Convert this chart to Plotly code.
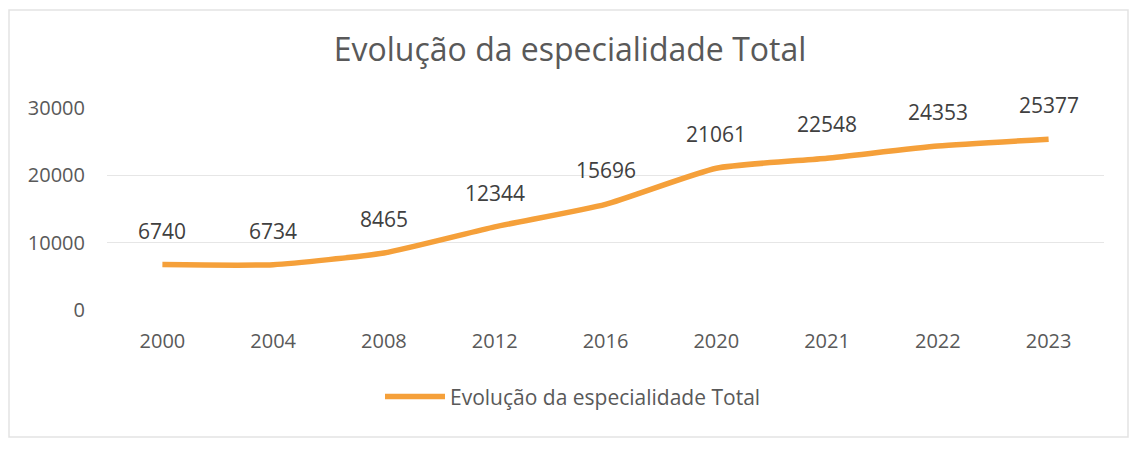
import plotly.graph_objects as go

years = ["2000", "2004", "2008", "2012", "2016", "2020", "2021", "2022", "2023"]
values = [6740, 6734, 8465, 12344, 15696, 21061, 22548, 24353, 25377]
y_ticks = [0, 10000, 20000, 30000]
series_name = "Evolução da especialidade Total"
title_text = "Evolução da especialidade Total"

FONT = "Open Sans"
ORANGE = "#F5A03A"

W, H = 1122, 460
L, T = 99, 100
PW, PH = 997, 202

xpos = list(range(len(years)))

fig = go.Figure()
fig.add_trace(go.Scatter(
    x=xpos, y=values, mode="lines", name=series_name,
    line=dict(color=ORANGE, width=5.5, shape="spline", smoothing=0.5),
    text=years, hovertemplate="%{text}: %{y}<extra></extra>",
))

for x, v in zip(xpos, values):
    fig.add_annotation(x=x, y=v, text=str(v), showarrow=False, yshift=34,
                       font=dict(family=FONT, size=21, color="#404040"))

fig.update_layout(
    width=W, height=H,
    paper_bgcolor="white", plot_bgcolor="white",
    margin=dict(l=L, r=W - L - PW, t=T, b=H - T - PH),
    title=dict(text=title_text, x=562 / W, xanchor="center", xref="container",
               y=(H - 42) / H, yanchor="middle",
               font=dict(family=FONT, size=32, color="#595959")),
    showlegend=True,
    legend=dict(orientation="h", x=(565 - L) / PW, xanchor="center", y=-0.43, yanchor="middle",
                font=dict(family=FONT, size=21, color="#595959"), itemwidth=60),
    xaxis=dict(range=[-0.5, len(years) - 0.5], tickvals=xpos, ticktext=years,
               showgrid=False, zeroline=False, showline=False,
               ticks="", ticklabelstandoff=17,
               tickfont=dict(family=FONT, size=20, color="#595959")),
    yaxis=dict(range=[0, 30000], tickvals=y_ticks, tickformat="d",
               showgrid=True, gridcolor="#E6E6E6",
               gridwidth=1, zeroline=False, showline=False, ticks="", ticklabelstandoff=21,
               tickfont=dict(family=FONT, size=20, color="#595959")),
    shapes=[dict(type="rect", xref="paper", yref="paper",
                 x0=(1 - L) / PW, x1=(1120 - L) / PW, y0=-(429 - T - PH) / PH, y1=(T + PH - 2) / PH,
                 line=dict(color="#E3E3E3", width=1.5), fillcolor="rgba(0,0,0,0)",
                 layer="below")],
)

fig.write_html("out.html")
